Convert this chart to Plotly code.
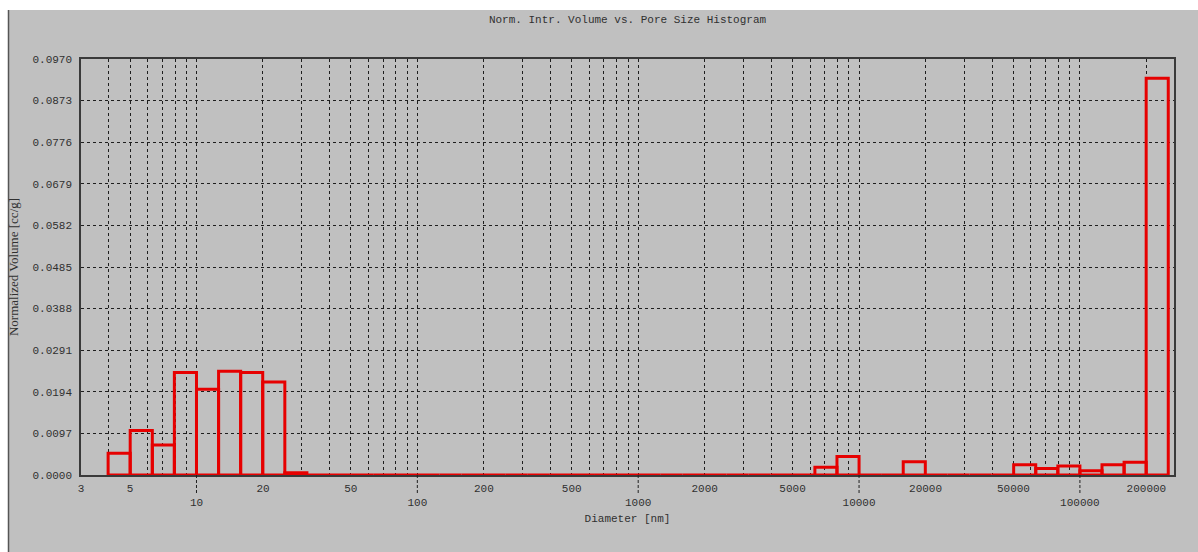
import plotly.graph_objects as go

# Pore-diameter bin edges in nm (ten log-spaced bins per decade)
bin_edges = [3.98, 5.01, 6.31, 7.94, 10.0, 12.59, 15.85, 19.95, 25.12, 31.62,
             39.81, 50.12, 63.10, 79.43, 100.0, 125.9, 158.5, 199.5, 251.2, 316.2,
             398.1, 501.2, 631.0, 794.3, 1000.0, 1259, 1585, 1995, 2512, 3162,
             3981, 5012, 6310, 7943, 10000, 12589, 15849, 19953, 25119, 31623,
             39811, 50119, 63096, 79433, 100000, 125893, 158489, 199526, 251189]

# Normalized intrusion volume per bin [cc/g]
volumes = [0.0051, 0.0104, 0.0070, 0.0239, 0.0200, 0.0242, 0.0239, 0.0217, 0.0005,
           0.0, 0.0, 0.0, 0.0, 0.0, 0.0, 0.0, 0.0, 0.0, 0.0, 0.0, 0.0, 0.0,
           0.0, 0.0, 0.0, 0.0, 0.0, 0.0, 0.0, 0.0, 0.0, 0.0,
           0.0018, 0.0043, 0.0, 0.0, 0.0031, 0.0, 0.0, 0.0, 0.0,
           0.0024, 0.0015, 0.0021, 0.0010, 0.0024, 0.0030, 0.0925]

# Axis ticks
y_ticks = [0.0, 0.0097, 0.0194, 0.0291, 0.0388, 0.0485, 0.0582, 0.0679, 0.0776, 0.0873, 0.0970]
y_tick_labels = ["0.0000", "0.0097", "0.0194", "0.0291", "0.0388", "0.0485",
                 "0.0582", "0.0679", "0.0776", "0.0873", "0.0970"]

x_grid = [3, 4, 5, 6, 7, 8, 9,
          10, 20, 30, 40, 50, 60, 70, 80, 90,
          100, 200, 300, 400, 500, 600, 700, 800, 900,
          1000, 2000, 3000, 4000, 5000, 6000, 7000, 8000, 9000,
          10000, 20000, 30000, 40000, 50000, 60000, 70000, 80000, 90000,
          100000, 200000]
x_upper_labels = {3: "3", 5: "5", 20: "20", 50: "50", 200: "200", 500: "500",
                  2000: "2000", 5000: "5000", 20000: "20000", 50000: "50000",
                  200000: "200000"}
x_decades = [10, 100, 1000, 10000, 100000]

x_tick_text = []
for v in x_grid:
    if v in x_upper_labels:
        x_tick_text.append(x_upper_labels[v])
    elif v in x_decades:
        x_tick_text.append("<br>" + str(v))
    else:
        x_tick_text.append("")

# Outline every bin as its own rectangle
xs, ys = [], []
for lo, hi, v in zip(bin_edges[:-1], bin_edges[1:], volumes):
    xs += [lo, lo, hi, hi, lo, None]
    ys += [0, v, v, 0, 0, None]

BG = "#c0c0c0"
DARK = "#3a3a3a"
MONO = "Liberation Mono, Courier New, monospace"

fig = go.Figure()
fig.add_trace(go.Scatter(
    x=xs, y=ys, mode="lines",
    line=dict(color="#e60000", width=3),
    hoverinfo="skip", showlegend=False,
))

W, H = 1198, 552
L, R, T, B = 81, 24, 59, 77
pw, ph = W - L - R, H - T - B

def px_x(p):
    return (p - L) / pw

def px_y(q):
    return (H - B - q) / ph

shapes = [
    # white frame strip along the top and left
    dict(type="rect", xref="paper", yref="paper",
         x0=px_x(-5), x1=px_x(W + 5), y0=px_y(10), y1=px_y(-5),
         fillcolor="white", line=dict(width=0), layer="below"),
    dict(type="rect", xref="paper", yref="paper",
         x0=px_x(-5), x1=px_x(8), y0=px_y(H + 5), y1=px_y(10),
         fillcolor="white", line=dict(width=0), layer="below"),
    dict(type="line", xref="paper", yref="paper",
         x0=px_x(8.5), x1=px_x(8.5), y0=px_y(10), y1=px_y(H + 5),
         line=dict(color="#555555", width=1.5), layer="below"),
]
# dotted leaders down to the decade labels
for d in x_decades:
    shapes.append(dict(type="line", xref="x", yref="paper",
                       x0=d, x1=d, y0=0, y1=-19 / ph,
                       line=dict(color="#202020", width=1, dash="3px,2px")))

fig.update_layout(
    width=W, height=H,
    margin=dict(l=L, r=R, t=T, b=B),
    paper_bgcolor=BG, plot_bgcolor=BG,
    font=dict(family=MONO, size=11, color="#303030"),
    title=dict(text="Norm. Intr. Volume vs. Pore Size Histogram",
               x=0.5, xref="paper", y=1 - 19 / H, yref="container",
               xanchor="center", yanchor="middle",
               font=dict(family=MONO, size=11, color="#303030")),
    shapes=shapes,
    showlegend=False,
)

fig.update_xaxes(
    type="log", range=[0.4771, 5.426],
    tickvals=x_grid, ticktext=x_tick_text, tickangle=0,
    ticks="", ticklabelstandoff=2,
    showgrid=True, gridcolor="#1e1e1e", gridwidth=1, griddash="3px,3px",
    showline=True, linecolor=DARK, linewidth=1.5, mirror=True,
    zeroline=False,
    title=dict(text="Diameter [nm]", standoff=6,
               font=dict(family=MONO, size=11, color="#303030")),
)

fig.update_yaxes(
    range=[0, 0.097],
    tickvals=y_ticks, ticktext=y_tick_labels,
    ticks="", ticklabelstandoff=5,
    showgrid=True, gridcolor="#1e1e1e", gridwidth=1, griddash="3px,3px",
    showline=True, linecolor=DARK, linewidth=1.5, mirror=True,
    zeroline=False,
    title=dict(text="Normalized Volume [cc/g]", standoff=11,
               font=dict(family="Liberation Serif, Times New Roman, serif",
                         size=13, color="#303030")),
)

fig.write_html("out.html")
